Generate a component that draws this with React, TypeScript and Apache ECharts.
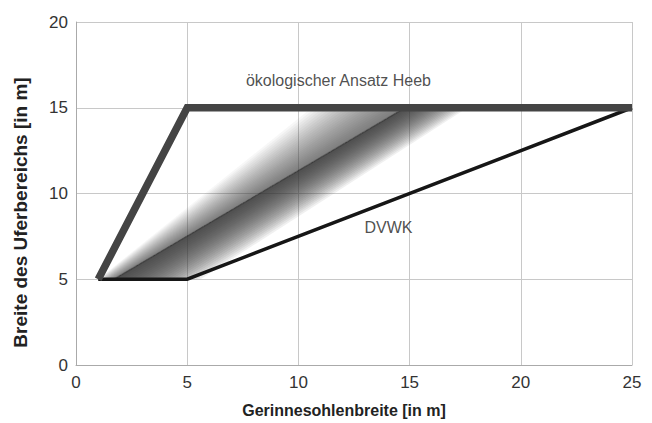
import React, { useEffect, useRef } from "react";
import * as echarts from "echarts";

const xTicks = { min: 0, max: 25, interval: 5 };
const yTicks = { min: 0, max: 20, interval: 5 };

// ökologischer Ansatz Heeb
const heebLine: number[][] = [
  [1, 5],
  [5, 15],
  [25, 15],
];
// DVWK
const dvwkLine: number[][] = [
  [1, 5],
  [5, 5],
  [25, 15],
];
// gray band (upper edge, centre line, lower edge)
const bandUpper: number[][] = [
  [1, 5],
  [10.6, 15],
];
const bandCenter: number[][] = [
  [1.7, 5],
  [14.8, 15],
];
const bandLower: number[][] = [
  [5.6, 5],
  [17.6, 15],
];

const textLabels: { name: string; value: number[] }[] = [
  { name: "ökologischer Ansatz Heeb", value: [11.8, 16.6] },
  { name: "DVWK", value: [14.05, 8.0] },
];

const FONT = "'Liberation Sans', Arial, Helvetica, sans-serif";

export default function App() {
  const ref = useRef<HTMLDivElement>(null);
  useEffect(() => {
    document.body.style.margin = "0";
    if (!ref.current) return;
    const chart = echarts.init(ref.current, undefined, { renderer: "svg" });

    const renderBand = (params: any, api: any) => {
      const C0 = api.coord(bandCenter[0]);
      const C1 = api.coord(bandCenter[1]);
      const U0 = api.coord(bandUpper[0]);
      const U1 = api.coord(bandUpper[1]);
      const L0 = api.coord(bandLower[0]);
      const L1 = api.coord(bandLower[1]);
      const lerp = (a: number[], b: number[], t: number) => [
        a[0] + (b[0] - a[0]) * t,
        a[1] + (b[1] - a[1]) * t,
      ];
      const children: any[] = [];
      const N = 24;
      for (let k = 1; k <= N; k++) {
        const t = k / N;
        children.push({
          type: "polygon",
          shape: { points: [C0, C1, lerp(C1, U1, t), lerp(C0, U0, t)] },
          style: { fill: "rgba(80,80,80,0.045)", stroke: null },
          silent: true,
        });
        children.push({
          type: "polygon",
          shape: { points: [C0, C1, lerp(C1, L1, t), lerp(C0, L0, t)] },
          style: { fill: "rgba(60,60,60,0.075)", stroke: null },
          silent: true,
        });
      }
      children.push({
        type: "line",
        shape: { x1: C0[0], y1: C0[1], x2: C1[0], y2: C1[1] },
        style: { stroke: "rgba(40,40,40,0.3)", lineWidth: 1.5 },
        silent: true,
      });
      return { type: "group", children };
    };

    chart.setOption({
      animation: false,
      grid: { left: 76, right: 20, top: 22, bottom: 57 },
      xAxis: {
        type: "value",
        min: xTicks.min,
        max: xTicks.max,
        interval: xTicks.interval,
        name: "Gerinnesohlenbreite [in m]",
        nameLocation: "middle",
        nameGap: 37,
        nameTextStyle: {
          fontFamily: FONT,
          fontSize: 16,
          fontWeight: "bold",
          color: "#222",
          padding: [0, 20, 0, 0],
        },
        axisLine: { show: true, lineStyle: { color: "#aaa", width: 1 } },
        axisTick: { show: false },
        axisLabel: { fontFamily: FONT, fontSize: 17, color: "#333", margin: 9 },
        splitLine: { show: true, lineStyle: { color: "#c8c8c8", width: 1 } },
      },
      yAxis: {
        type: "value",
        min: yTicks.min,
        max: yTicks.max,
        interval: yTicks.interval,
        name: "Breite des Uferbereichs [in m]",
        nameLocation: "middle",
        nameGap: 46,
        nameTextStyle: {
          fontFamily: FONT,
          fontSize: 19,
          fontWeight: "bold",
          color: "#222",
          padding: [0, 38, 0, 0],
        },
        axisLine: { show: true, lineStyle: { color: "#aaa", width: 1 } },
        axisTick: { show: false },
        axisLabel: { fontFamily: FONT, fontSize: 17, color: "#333", margin: 8 },
        splitLine: { show: true, lineStyle: { color: "#c8c8c8", width: 1 } },
      },
      series: [
        {
          type: "custom",
          renderItem: renderBand,
          data: [[0, 0]],
          silent: true,
          z: 1,
        },
        {
          type: "line",
          data: dvwkLine,
          symbol: "none",
          lineStyle: { color: "#161616", width: 3.5, cap: "butt", join: "miter" },
          z: 3,
          silent: true,
        },
        {
          type: "line",
          data: heebLine,
          symbol: "none",
          lineStyle: { color: "#444444", width: 7.5, cap: "butt", join: "miter" },
          z: 4,
          silent: true,
        },
        {
          type: "scatter",
          data: textLabels,
          symbolSize: 1,
          itemStyle: { color: "rgba(0,0,0,0)" },
          label: {
            show: true,
            position: "inside",
            formatter: (p: any) => p.name,
            fontFamily: FONT,
            fontSize: 16,
            color: "#222",
          },
          z: 5,
          silent: true,
        },
      ],
    });
    return () => chart.dispose();
  }, []);
  return <div ref={ref} style={{ width: 652, height: 423 }} />;
}
